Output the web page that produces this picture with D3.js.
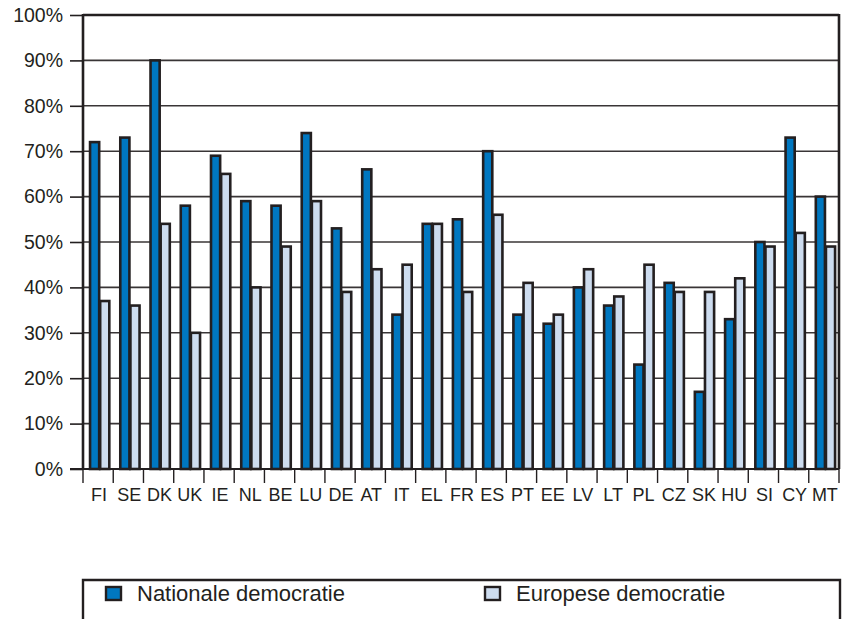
<!DOCTYPE html>
<html>
<head>
<meta charset="utf-8">
<script src="https://cdn.jsdelivr.net/npm/d3@7"></script>
<style>
  html, body { margin: 0; padding: 0; background: #fff; }
  svg { display: block; font-family: "Liberation Sans", Arial, Helvetica, sans-serif; }
</style>
</head>
<body>
<div id="chart"></div>
<script>
// country codes, in chart order
const countries = ["FI", "SE", "DK", "UK", "IE", "NL", "BE", "LU", "DE", "AT", "IT", "EL", "FR",
  "ES", "PT", "EE", "LV", "LT", "PL", "CZ", "SK", "HU", "SI", "CY", "MT"];
const seriesNames = ["Nationale democratie", "Europese democratie"];
const nationaal = [72, 73, 90, 58, 69, 59, 58, 74, 53, 66, 34, 54, 55, 70, 34, 32, 40, 36, 23, 41, 17, 33, 50, 73, 60];
const europees = [37, 36, 54, 30, 65, 40, 49, 59, 39, 44, 45, 54, 39, 56, 41, 34, 44, 38, 45, 39, 39, 42, 49, 52, 49];
const yTicks = [0, 10, 20, 30, 40, 50, 60, 70, 80, 90, 100];

const W = 847, H = 619;
const colors = ["#0077c0", "#cddcef"];
const ink = "#231f20";
const plot = { left: 83, right: 839, top: 15, bottom: 469 };

const svg = d3.select("#chart").append("svg")
  .attr("width", W)
  .attr("height", H)
  .attr("viewBox", "0 0 " + W + " " + H);

const x = d3.scaleBand()
  .domain(countries)
  .range([plot.left, plot.right])
  .padding(0);

const xInner = d3.scaleBand()
  .domain(seriesNames)
  .range([x.bandwidth() * 0.2, x.bandwidth() * 0.87])
  .padding(0);

const y = d3.scaleLinear()
  .domain([0, 100])
  .range([plot.bottom, plot.top]);

// horizontal gridlines + left ticks
const yAxis = svg.append("g")
  .attr("transform", "translate(" + plot.left + ",0)")
  .call(d3.axisLeft(y)
    .tickValues(yTicks)
    .tickSize(13)
    .tickPadding(7)
    .tickFormat(d => d + "%"));
yAxis.select(".domain").remove();
yAxis.selectAll(".tick line").attr("stroke", ink).attr("stroke-width", 1.6);
yAxis.selectAll(".tick text")
  .attr("fill", ink)
  .style("font-size", "19.5px");

svg.append("g")
  .selectAll("line")
  .data(yTicks.filter(d => d > 0))
  .join("line")
  .attr("x1", plot.left)
  .attr("x2", plot.right)
  .attr("y1", d => y(d))
  .attr("y2", d => y(d))
  .attr("stroke", ink)
  .attr("stroke-opacity", d => d === 100 ? 1 : 0.9)
  .attr("stroke-width", d => d === 100 ? 2.6 : 1.6);

// bars
const rows = countries.map((c, i) => ({ c: c, vals: [nationaal[i], europees[i]] }));
const groups = svg.append("g")
  .selectAll("g")
  .data(rows)
  .join("g")
  .attr("transform", d => "translate(" + x(d.c) + ",0)");

groups.selectAll("rect")
  .data(d => d.vals.map((v, k) => ({ name: seriesNames[k], v: v, k: k })))
  .join("rect")
  .attr("x", d => xInner(d.name) + 1)
  .attr("width", xInner.bandwidth() - 1)
  .attr("y", d => y(d.v))
  .attr("height", d => y(0) - y(d.v))
  .attr("fill", d => colors[d.k])
  .attr("stroke", ink)
  .attr("stroke-width", 2.6);

// frame: left axis, right border, baseline
svg.append("line")
  .attr("x1", plot.left).attr("x2", plot.left)
  .attr("y1", plot.top - 1).attr("y2", plot.bottom)
  .attr("stroke", ink).attr("stroke-width", 2.6);
svg.append("line")
  .attr("x1", plot.right).attr("x2", plot.right)
  .attr("y1", plot.top - 1).attr("y2", plot.bottom)
  .attr("stroke", ink).attr("stroke-width", 2.6);
svg.append("line")
  .attr("x1", plot.left - 13).attr("x2", plot.right)
  .attr("y1", plot.bottom).attr("y2", plot.bottom)
  .attr("stroke", ink).attr("stroke-width", 2.2);

// x axis: ticks at the category boundaries, labels centred
const bounds = countries.map(c => x(c)).concat([plot.right]);
svg.append("g")
  .selectAll("line")
  .data(bounds)
  .join("line")
  .attr("x1", d => d).attr("x2", d => d)
  .attr("y1", plot.bottom).attr("y2", plot.bottom + 14)
  .attr("stroke", ink)
  .attr("stroke-width", 1.4);

svg.append("g")
  .selectAll("text")
  .data(countries)
  .join("text")
  .attr("x", d => x(d) + x.bandwidth() / 2 + 1)
  .attr("y", 501)
  .attr("text-anchor", "middle")
  .attr("fill", ink)
  .style("font-size", "18px")
  .text(d => d);

// legend box (bottom edge runs off the picture)
svg.append("path")
  .attr("d", "M" + plot.left + "," + (H + 5) + "V580H" + (plot.right + 1) + "V" + (H + 5))
  .attr("fill", "none")
  .attr("stroke", ink)
  .attr("stroke-width", 2.4);

const legend = svg.append("g")
  .selectAll("g")
  .data(seriesNames)
  .join("g")
  .attr("transform", (d, i) => "translate(" + [106, 485][i] + ",587)");

legend.append("rect")
  .attr("width", 15)
  .attr("height", 13)
  .attr("fill", (d, i) => colors[i])
  .attr("stroke", ink)
  .attr("stroke-width", 2.4);

legend.append("text")
  .attr("x", 31)
  .attr("y", 14)
  .attr("fill", ink)
  .style("font-size", "22px")
  .text(d => d);
</script>
</body>
</html>
